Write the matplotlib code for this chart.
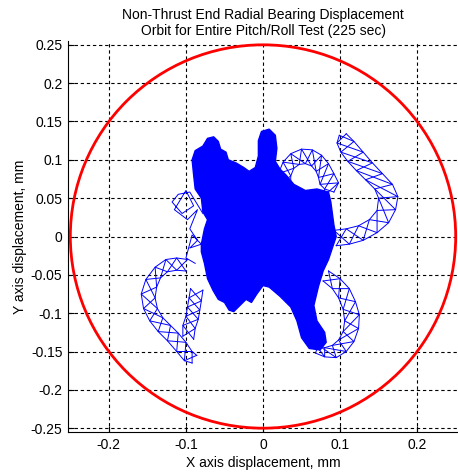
import numpy as np
import matplotlib
matplotlib.use('Agg')
import matplotlib.pyplot as plt
from matplotlib.patches import Circle

plt.rcParams['font.family'] = ['Liberation Sans', 'DejaVu Sans']
plt.rcParams['axes.unicode_minus'] = False

title = 'Non-Thrust End Radial Bearing Displacement\nOrbit for Entire Pitch/Roll Test (225 sec)'
x_label = 'X axis displacement, mm'
y_label = 'Y axis displacement, mm'

clearance_radius = 0.25

x_ticks = [-0.2, -0.1, 0, 0.1, 0.2]
y_ticks = [-0.25, -0.2, -0.15, -0.1, -0.05, 0, 0.05, 0.1, 0.15, 0.2, 0.25]

# outline of the dense central part of the orbit (mm)
core_x = [-0.080, -0.076, -0.072, -0.078, -0.080, -0.088, -0.090, -0.092, -0.088, -0.078,
          -0.072, -0.064, -0.058, -0.055, -0.048, -0.045, -0.035, -0.025, -0.018, -0.010,
          -0.006, -0.006, -0.002, 0.008, 0.016, 0.018, 0.016, 0.022, 0.030, 0.040,
          0.055, 0.070, 0.085, 0.088, 0.090, 0.092, 0.095, 0.090, 0.085, 0.078,
          0.072, 0.066, 0.070, 0.080, 0.082, 0.074, 0.060, 0.050, 0.044, 0.036,
          0.022, 0.008, 0.000, -0.008, -0.015, -0.022, -0.030, -0.038, -0.044, -0.050,
          -0.058, -0.065, -0.072, -0.076, -0.080]
core_y = [-0.010, 0.010, 0.022, 0.032, 0.050, 0.062, 0.080, 0.100, 0.112, 0.118,
          0.128, 0.130, 0.124, 0.114, 0.110, 0.100, 0.096, 0.090, 0.085, 0.090,
          0.105, 0.125, 0.137, 0.140, 0.132, 0.115, 0.098, 0.088, 0.080, 0.068,
          0.060, 0.062, 0.058, 0.045, 0.030, 0.015, 0.000, -0.015, -0.030, -0.045,
          -0.065, -0.090, -0.110, -0.125, -0.138, -0.148, -0.146, -0.132, -0.110, -0.092,
          -0.078, -0.066, -0.064, -0.075, -0.086, -0.082, -0.090, -0.098, -0.096, -0.086,
          -0.082, -0.070, -0.055, -0.035, -0.020]

# orbit excursions drawn as bands: two edges each (mm)
# upper right hook
hook_out_x = [0.095, 0.112, 0.130, 0.148, 0.163, 0.172, 0.175, 0.168, 0.155, 0.142, 0.130, 0.118, 0.108]
hook_out_y = [-0.012, -0.010, -0.005, 0.005, 0.018, 0.035, 0.052, 0.068, 0.082, 0.096, 0.110, 0.124, 0.134]
hook_in_x = [0.092, 0.108, 0.124, 0.138, 0.148, 0.150, 0.145, 0.133, 0.121, 0.110, 0.101, 0.096, 0.099]
hook_in_y = [0.008, 0.010, 0.014, 0.022, 0.034, 0.050, 0.062, 0.074, 0.086, 0.098, 0.110, 0.122, 0.132]

# ring above the core, right of centre
ring_out_x = [0.022, 0.020, 0.026, 0.036, 0.050, 0.064, 0.076, 0.085, 0.092, 0.098, 0.092]
ring_out_y = [0.068, 0.082, 0.097, 0.108, 0.114, 0.113, 0.106, 0.095, 0.082, 0.070, 0.058]
ring_in_x = [0.036, 0.036, 0.040, 0.047, 0.055, 0.063, 0.069, 0.072, 0.074, 0.080, 0.078]
ring_in_y = [0.068, 0.079, 0.089, 0.094, 0.095, 0.092, 0.085, 0.077, 0.068, 0.062, 0.052]

# lower right ring
low_out_x = [0.085, 0.100, 0.112, 0.120, 0.125, 0.124, 0.118, 0.108, 0.095, 0.080, 0.068]
low_out_y = [-0.045, -0.055, -0.068, -0.085, -0.102, -0.120, -0.137, -0.150, -0.158, -0.157, -0.152]
low_in_x = [0.078, 0.090, 0.098, 0.104, 0.106, 0.104, 0.098, 0.090, 0.080, 0.072, 0.066]
low_in_y = [-0.058, -0.068, -0.080, -0.095, -0.110, -0.124, -0.135, -0.142, -0.145, -0.142, -0.138]

# lower left loop
left_out_x = [-0.098, -0.112, -0.126, -0.140, -0.152, -0.158, -0.155, -0.147, -0.136, -0.124, -0.112, -0.102, -0.092]
left_out_y = [-0.030, -0.028, -0.030, -0.040, -0.056, -0.075, -0.094, -0.110, -0.124, -0.136, -0.150, -0.162, -0.165]
left_in_x = [-0.100, -0.112, -0.124, -0.133, -0.138, -0.140, -0.137, -0.130, -0.120, -0.110, -0.100, -0.092, -0.086]
left_in_y = [-0.045, -0.044, -0.046, -0.054, -0.066, -0.080, -0.094, -0.106, -0.116, -0.126, -0.138, -0.150, -0.155]

# return strand of the lower left loop
ret_out_x = [-0.104, -0.104, -0.100, -0.098, -0.096, -0.094]
ret_out_y = [-0.130, -0.116, -0.104, -0.092, -0.080, -0.068]
ret_in_x = [-0.090, -0.088, -0.084, -0.082, -0.080, -0.078]
ret_in_y = [-0.134, -0.120, -0.108, -0.096, -0.084, -0.070]

# small loops on the left side of the core
loops_x = [-0.078, -0.095, -0.110, -0.118, -0.105, -0.090, -0.100, -0.115, -0.098, -0.085,
           -0.095, -0.085, -0.095, -0.080, -0.092, -0.100, -0.088]
loops_y = [0.030, 0.058, 0.055, 0.045, 0.030, 0.040, 0.060, 0.035, 0.022, 0.035,
           0.010, -0.005, -0.015, -0.010, 0.002, -0.028, -0.035]

bands = [(hook_out_x, hook_out_y, hook_in_x, hook_in_y),
         (ring_out_x, ring_out_y, ring_in_x, ring_in_y),
         (low_out_x, low_out_y, low_in_x, low_in_y),
         (left_out_x, left_out_y, left_in_x, left_in_y),
         (ret_out_x, ret_out_y, ret_in_x, ret_in_y)]

fig = plt.figure(figsize=(4.58, 4.75), dpi=100)
ax = fig.add_axes([0.1485, 0.0905, 0.8515, 0.8232])

blue = '#0000ff'
ax.fill(core_x, core_y, color=blue, lw=0, zorder=2)
ax.plot(core_x + core_x[:1], core_y + core_y[:1], color=blue, lw=1.0, zorder=2)

for ox, oy, ix, iy in bands:
    ax.plot(ox, oy, color=blue, lw=0.7, zorder=2)
    ax.plot(ix, iy, color=blue, lw=0.7, zorder=2)
    # crossing strokes between the edges give the chain of small diamonds
    n = len(ox)
    z1x = [ox[i] if i % 2 == 0 else ix[i] for i in range(n)]
    z1y = [oy[i] if i % 2 == 0 else iy[i] for i in range(n)]
    z2x = [ix[i] if i % 2 == 0 else ox[i] for i in range(n)]
    z2y = [iy[i] if i % 2 == 0 else oy[i] for i in range(n)]
    ax.plot(z1x, z1y, color=blue, lw=0.7, zorder=2)
    ax.plot(z2x, z2y, color=blue, lw=0.7, zorder=2)

ax.plot(loops_x, loops_y, color=blue, lw=0.7, zorder=2)

ax.add_patch(Circle((0, 0), clearance_radius, fill=False, ec='red', lw=2, zorder=3))

ax.set_xlim(-0.253, 0.253)
ax.set_ylim(-0.255, 0.255)
ax.set_xticks(x_ticks)
ax.set_yticks(y_ticks)
ax.set_xticklabels(['%g' % t for t in x_ticks])
ax.set_yticklabels(['%g' % t for t in y_ticks])
ax.tick_params(direction='in', length=4, labelsize=10, colors='black', pad=4)
ax.set_axisbelow(True)
ax.grid(True, color='black', ls=(0, (3, 2.5)), lw=0.8)
ax.spines['top'].set_visible(False)
ax.spines['right'].set_visible(False)

ax.set_title(title, fontsize=10, pad=4, linespacing=1.25)
ax.set_xlabel(x_label, fontsize=10, labelpad=3)
ax.set_ylabel(y_label, fontsize=10, labelpad=3)

fig.savefig('out.png', dpi=100)
